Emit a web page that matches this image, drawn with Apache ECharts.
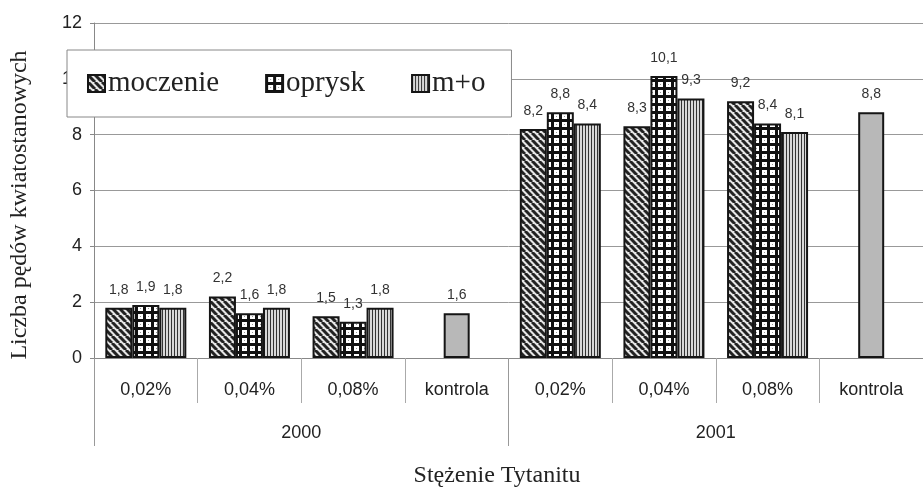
<!DOCTYPE html>
<html>
<head>
<meta charset="utf-8">
<script src="https://cdn.jsdelivr.net/npm/echarts@6/dist/echarts.min.js"></script>
<style>
html,body{margin:0;padding:0;background:#fff;}
#c{width:923px;height:490px;}
</style>
</head>
<body>
<div id="c"></div>
<script>
// ---- data ----
const categories = ['0,02%', '0,04%', '0,08%', 'kontrola', '0,02%', '0,04%', '0,08%', 'kontrola'];
const years = ['2000', '2001'];
const moczenie = [1.8, 2.2, 1.5, '-', 8.2, 8.3, 9.2, '-'];
const oprysk = [1.9, 1.6, 1.3, '-', 8.8, 10.1, 8.4, '-'];
const mo = [1.8, 1.8, 1.8, '-', 8.4, 9.3, 8.1, '-'];
const kontrola = ['-', '-', '-', 1.6, '-', '-', '-', 8.8];
const yTicks = [0, 2, 4, 6, 8, 10, 12];

// ---- patterns ----
function tile(w, h, draw) {
  const c = document.createElement('canvas');
  c.width = w; c.height = h;
  const g = c.getContext('2d');
  draw(g, w, h);
  return { image: c, repeat: 'repeat' };
}
const patDiag = tile(7, 7, (g, n) => {
  g.fillStyle = '#e6e6e6'; g.fillRect(0, 0, n, n);
  g.strokeStyle = '#222'; g.lineWidth = 3;
  [-n, 0, n].forEach(x0 => { g.beginPath(); g.moveTo(x0, 0); g.lineTo(x0 + n, n); g.stroke(); });
});
const patGrid = tile(8, 8, (g) => {
  g.fillStyle = '#111'; g.fillRect(0, 0, 8, 8);
  g.fillStyle = '#fff'; g.fillRect(2, 2, 5, 5);
  g.fillStyle = '#999'; g.fillRect(4, 4, 1, 1);
});
const patVert = tile(3, 4, (g) => {
  g.fillStyle = '#d8d8d8'; g.fillRect(0, 0, 3, 4);
  g.fillStyle = '#333'; g.fillRect(0, 0, 1, 4);
});

const sans = 'Liberation Sans, Arial, sans-serif';
const serif = 'Liberation Serif, Times New Roman, serif';
const fmt = p => String(p.value).replace('.', ',');
const labelCfg = { show: true, position: 'top', distance: 11, fontFamily: sans, fontSize: 14, color: '#333', formatter: fmt };
const border = { borderColor: '#151515', borderWidth: 2 };

const chart = echarts.init(document.getElementById('c'), null, { renderer: 'canvas' });
chart.setOption({
  animation: false,
  backgroundColor: '#fff',
  grid: { left: 94, top: 23, width: 832, height: 335, containLabel: false },
  legend: {
    data: ['moczenie', 'oprysk', 'm+o'],
    left: 67, top: 50,
    padding: [19, 26, 19, 20],
    itemGap: 46, itemWidth: 17, itemHeight: 17,
    backgroundColor: '#fff', borderColor: '#888', borderWidth: 1,
    icon: 'rect',
    textStyle: { fontFamily: serif, fontSize: 29, color: '#222', padding: [0, 0, 0, -2] }
  },
  xAxis: [
    {
      type: 'category', data: categories, position: 'bottom',
      axisLine: { show: true, lineStyle: { color: '#888', width: 1 } },
      axisTick: { show: true, interval: 0, length: 45, lineStyle: { color: '#aaa' } },
      axisLabel: { interval: 0, margin: 23, fontFamily: sans, fontSize: 18, color: '#222' },
      splitLine: { show: false }
    },
    {
      type: 'category', data: categories, position: 'bottom', show: false
    },
    {
      type: 'category', data: years, position: 'bottom',
      axisLine: { show: false },
      axisTick: { show: true, interval: 0, length: 88, lineStyle: { color: '#999' } },
      axisLabel: { interval: 0, margin: 66, fontFamily: sans, fontSize: 18, color: '#222' },
      splitLine: { show: false }
    }
  ],
  yAxis: {
    type: 'value', min: yTicks[0], max: yTicks[yTicks.length - 1], interval: 2,
    axisLine: { show: true, lineStyle: { color: '#888' } },
    axisTick: { show: true, length: 4, lineStyle: { color: '#888' } },
    axisLabel: { margin: 12, fontFamily: sans, fontSize: 18, color: '#222' },
    splitLine: { show: true, lineStyle: { color: '#999', width: 1 } }
  },
  series: [
    { name: 'moczenie', type: 'bar', xAxisIndex: 0, data: moczenie, barWidth: 27, barGap: '0%',
      itemStyle: Object.assign({ color: patDiag }, border), label: labelCfg },
    { name: 'oprysk', type: 'bar', xAxisIndex: 0, data: oprysk, barWidth: 27, barGap: '0%',
      itemStyle: Object.assign({ color: patGrid }, border), label: labelCfg },
    { name: 'm+o', type: 'bar', xAxisIndex: 0, data: mo, barWidth: 27, barGap: '0%',
      itemStyle: Object.assign({ color: patVert }, border), label: labelCfg },
    { name: 'kontrola', type: 'bar', xAxisIndex: 1, data: kontrola, barWidth: 26,
      itemStyle: Object.assign({ color: '#b8b8b8' }, border), label: labelCfg }
  ],
  graphic: [
    { type: 'text', x: 20, y: 205, rotation: Math.PI / 2,
      style: { text: 'Liczba pędów kwiatostanowych', font: '24px ' + serif, fill: '#222', textAlign: 'center', textVerticalAlign: 'middle' } },
    { type: 'text', x: 497, y: 476,
      style: { text: 'Stężenie Tytanitu', font: '24px ' + serif, fill: '#222', textAlign: 'center', textVerticalAlign: 'middle' } }
  ]
});
</script>
</body>
</html>
